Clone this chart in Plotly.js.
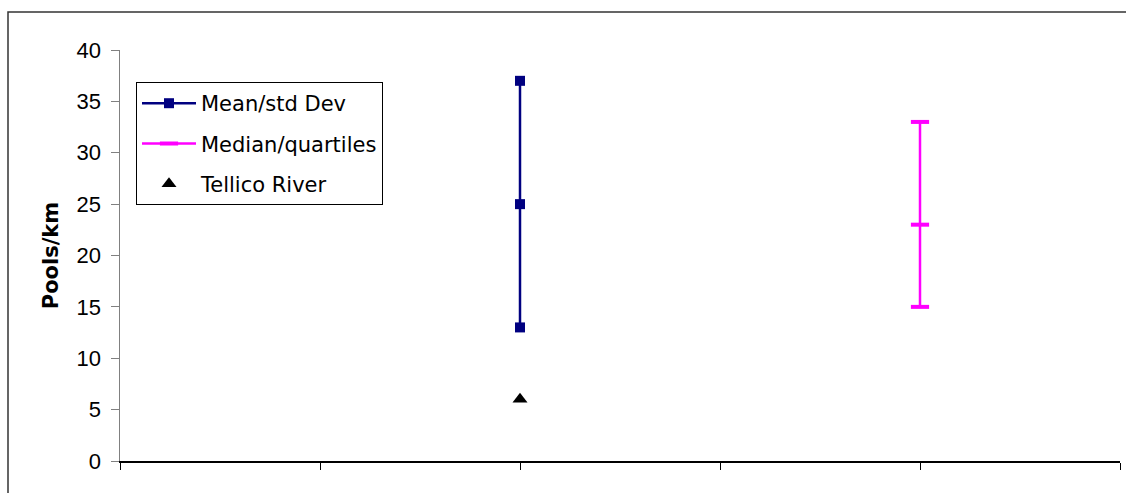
<!DOCTYPE html>
<html>
<head>
<meta charset="utf-8">
<script src="https://cdn.plot.ly/plotly-3.0.1.min.js"></script>
<style>html,body{margin:0;padding:0;background:#fff;}#chart{width:1126px;height:493px;}</style>
</head>
<body>
<div id="chart"></div>
<script>
// Data
const seriesNames = ["Mean/std Dev", "Median/quartiles", "Tellico River"];
const meanX = [2, 2, 2];
const meanY = [37, 25, 13];
const medianX = [4, 4, 4];
const medianY = [33, 23, 15];
const tellicoX = [2];
const tellicoY = [6];
const yTickVals = [0, 5, 10, 15, 20, 25, 30, 35, 40];
const yAxisTitle = "Pools/km";

const FONT = "DejaVu Sans, Liberation Sans, Arial, sans-serif";
const TICKFONT = "Liberation Sans, Arial, sans-serif";

const traces = [
  {
    x: meanX, y: meanY, name: seriesNames[0], type: "scatter", mode: "lines+markers",
    legendgroup: "a",
    line: {color: "#000080", width: 2.5},
    marker: {symbol: "square", size: 10, color: "#000080"}
  },
  {
    x: medianX, y: medianY, name: seriesNames[1], type: "scatter", mode: "lines+markers",
    legendgroup: "b",
    line: {color: "#ff00ff", width: 2.5},
    marker: {symbol: "line-ew", size: 13, color: "#ff00ff", line: {color: "#ff00ff", width: 4}}
  },
  {
    x: tellicoX, y: tellicoY, name: seriesNames[2], type: "scatter", mode: "markers",
    legendgroup: "c",
    marker: {symbol: "triangle-up", size: 13, color: "#000000"}
  }
];

const layout = {
  width: 1126, height: 493,
  margin: {l: 120, r: 6, t: 50, b: 32, pad: 0},
  paper_bgcolor: "#ffffff", plot_bgcolor: "#ffffff",
  font: {family: FONT, size: 20, color: "#000"},
  showlegend: true,
  legend: {
    x: 0.016, y: 0.922, xanchor: "left", yanchor: "top",
    bgcolor: "#ffffff", bordercolor: "#000000", borderwidth: 1,
    font: {family: FONT, size: 21, color: "#000"},
    itemwidth: 54,
    traceorder: "grouped", tracegroupgap: 10
  },
  xaxis: {
    range: [0, 5], tickvals: [0, 1, 2, 3, 4, 5], showticklabels: false,
    ticks: "outside", ticklen: 7, tickcolor: "#000", tickwidth: 1,
    showgrid: false, zeroline: false, showline: true, linecolor: "#000", linewidth: 1.5,
    fixedrange: true
  },
  yaxis: {
    range: [0, 40], tickvals: yTickVals, ticks: "outside", ticklen: 8,
    tickcolor: "#808080", tickwidth: 1, showgrid: false, zeroline: false,
    showline: true, linecolor: "#808080", linewidth: 1.5,
    tickfont: {family: TICKFONT, size: 22, color: "#000"},
    ticklabelstandoff: 5,
    title: {text: "<b>" + yAxisTitle + "</b>", font: {family: FONT, size: 21, color: "#000"}, standoff: 12},
    fixedrange: true
  },
  shapes: [
    {type: "rect", xref: "paper", yref: "paper", x0: -0.112, x1: 1.3, y0: -0.3, y1: 1.0925,
     line: {color: "#333333", width: 1.5}, fillcolor: "rgba(0,0,0,0)", layer: "below"}
  ]
};

Plotly.newPlot("chart", traces, layout, {displayModeBar: false, staticPlot: true});
</script>
</body>
</html>
